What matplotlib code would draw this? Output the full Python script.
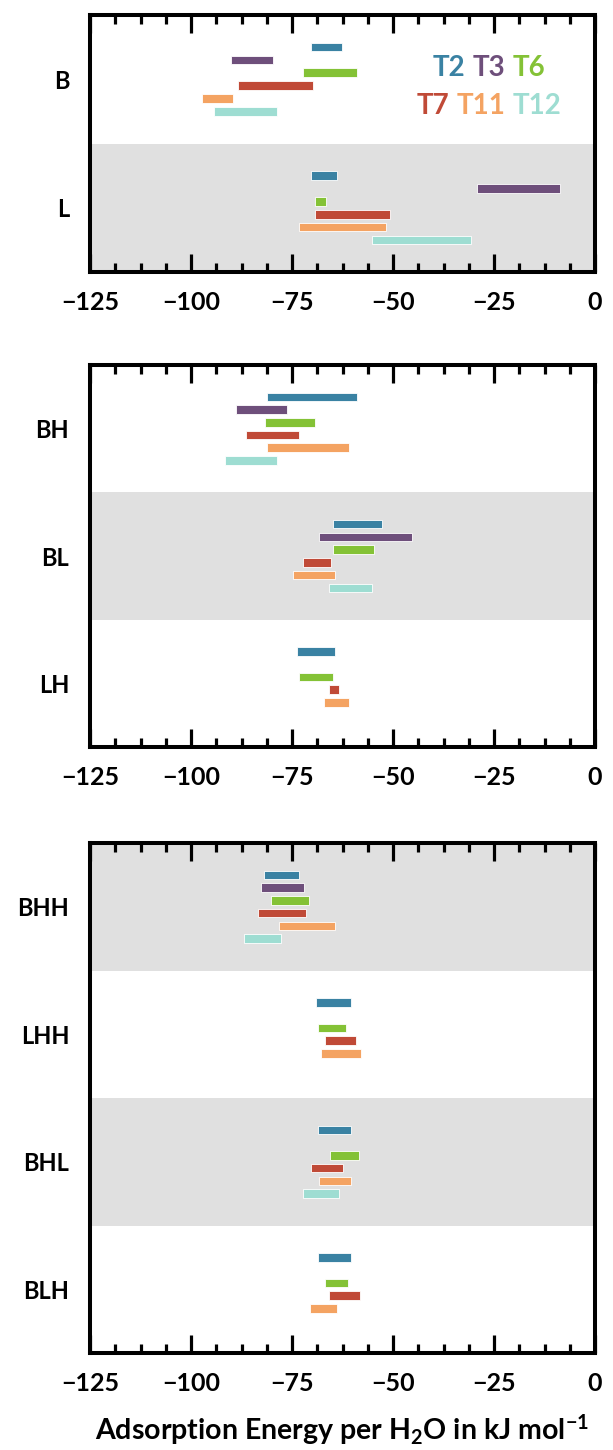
import numpy as np
import matplotlib
matplotlib.use("Agg")
import matplotlib.pyplot as plt
from matplotlib.ticker import MultipleLocator
from matplotlib.offsetbox import TextArea, HPacker, VPacker, AnnotationBbox

plt.rcParams['font.family'] = ['Lato', 'DejaVu Sans']
plt.rcParams['font.weight'] = 'bold'
plt.rcParams['mathtext.fontset'] = 'custom'
plt.rcParams['mathtext.rm'] = 'Lato:bold'
plt.rcParams['mathtext.default'] = 'rm'

# ---------------- data ----------------
series = ['T2', 'T3', 'T6', 'T7', 'T11', 'T12']
colors = ['#3A82A3', '#6E4F7B', '#84C236', '#C04A37', '#F4A362', '#9EDDD2']
nan = np.nan

# panel 1
B_start = [-70.3, -90.2, -72.3, -88.3, -97.2, -94.3]
B_end   = [-62.7, -79.8, -58.8, -69.7, -89.7, -78.7]
L_start = [-70.3, -29.3, -69.3, -69.3, -73.2, -55.2]
L_end   = [-63.8,  -8.7, -66.7, -50.7, -51.7, -30.8]

# panel 2
BH_start = [-81.2, -88.8, -81.8, -86.3, -81.2, -91.7]
BH_end   = [-58.8, -76.2, -69.2, -73.2, -60.8, -78.7]
BL_start = [-64.8, -68.2, -64.8, -72.2, -74.8, -65.8]
BL_end   = [-52.8, -45.2, -54.7, -65.3, -64.3, -55.2]
LH_start = [-73.8, nan, -73.2, -65.8, -67.2, nan]
LH_end   = [-64.3, nan, -64.8, -63.3, -60.8, nan]

# panel 3
BHH_start = [-81.9, -82.6, -80.3, -83.5, -78.2, -87.0]
BHH_end   = [-73.3, -72.0, -70.7, -71.5, -64.4, -77.7]
LHH_start = [-69.0, nan, -68.6, -66.8, -67.7, nan]
LHH_end   = [-60.4, nan, -61.7, -59.2, -57.8, nan]
BHL_start = [-68.6, nan, -65.6, -70.3, -68.3, -72.2]
BHL_end   = [-60.4, nan, -58.4, -62.4, -60.4, -63.4]
BLH_start = [-68.6, nan, -66.8, -65.8, -70.6, nan]
BLH_end   = [-60.4, nan, -61.1, -58.2, -63.8, nan]

panels = [
    (['B', 'L'], [B_start, L_start], [B_end, L_end], [False, True]),
    (['BH', 'BL', 'LH'], [BH_start, BL_start, LH_start], [BH_end, BL_end, LH_end],
     [False, True, False]),
    (['BHH', 'LHH', 'BHL', 'BLH'], [BHH_start, LHH_start, BHL_start, BLH_start],
     [BHH_end, LHH_end, BHL_end, BLH_end], [True, False, True, False]),
]

# ---------------- figure ----------------
W, H = 613, 1450
fig = plt.figure(figsize=(W / 100, H / 100), dpi=100)
boxes = [(15, 272), (365, 747), (843, 1353)]
left_px, right_px = 90, 595

gray = '#E0E0E0'
bar_h = 0.068
step = 0.1

axes = []
for (cats, starts, ends, shaded), (top, bot) in zip(panels, boxes):
    ax = fig.add_axes([left_px / W, 1 - bot / H, (right_px - left_px) / W, (bot - top) / H])
    axes.append(ax)
    n = len(cats)
    for i, sh in enumerate(shaded):
        if sh:
            ax.axhspan(i, i + 1, color=gray, lw=0, zorder=0)
    for i in range(n):
        s = np.array(starts[i], dtype=float)
        e = np.array(ends[i], dtype=float)
        for k in range(len(series)):
            if np.isnan(s[k]):
                continue
            ax.barh(i + 0.5 + (k - 2.5) * step, e[k] - s[k], left=s[k], height=bar_h,
                    color=colors[k], edgecolor='white', linewidth=0.6, zorder=2)
    ax.set_xlim(-125, 0)
    ax.set_ylim(n, 0)
    ax.set_yticks([i + 0.5 for i in range(n)])
    ax.set_yticklabels(cats, fontsize=17, fontweight='bold')
    ax.tick_params(axis='y', length=0, pad=15)
    ax.xaxis.set_major_locator(MultipleLocator(25))
    ax.xaxis.set_minor_locator(MultipleLocator(6.25))
    ax.tick_params(axis='x', which='both', direction='in', top=True, bottom=True,
                   width=2.3, color='black')
    ax.tick_params(axis='x', which='major', length=13, labelsize=18, pad=14)
    ax.tick_params(axis='x', which='minor', length=6.5)
    for lbl in ax.get_xticklabels():
        lbl.set_fontweight('bold')
    for sp in ax.spines.values():
        sp.set_linewidth(2.9)
        sp.set_zorder(5)

# legend as coloured text
row1 = [TextArea(t, textprops=dict(color=c, fontsize=20, fontweight='bold'))
        for t, c in zip(series[:3], colors[:3])]
row2 = [TextArea(t, textprops=dict(color=c, fontsize=20, fontweight='bold'))
        for t, c in zip(series[3:], colors[3:])]
pack = VPacker(children=[HPacker(children=row1, sep=5, align='baseline'),
                         HPacker(children=row2, sep=5, align='baseline')],
               sep=8, align='center')
ab = AnnotationBbox(pack, (0.79, 0.72), xycoords='axes fraction',
                    box_alignment=(0.5, 0.5), frameon=False)
axes[0].add_artist(ab)

axes[2].set_xlabel('Adsorption Energy per H$_2$O in kJ mol$^{-1}$',
                   fontsize=20.5, fontweight='bold', labelpad=12)

fig.savefig('out.png', dpi=100)
